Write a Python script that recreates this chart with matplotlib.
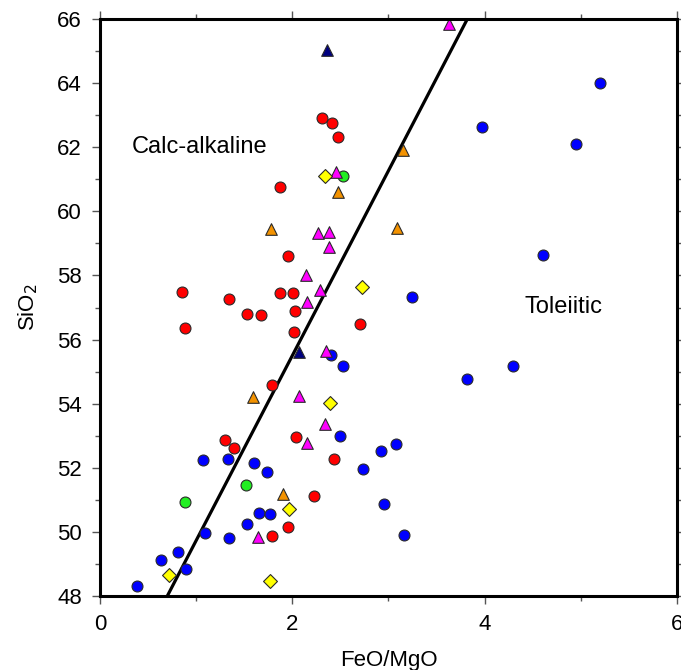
#!/usr/bin/env python3

# FeO/MgO vs SiO2 discrimination diagram (calc-alkaline / tholeiitic)

import numpy as np
import matplotlib
matplotlib.use("Agg")
import matplotlib.pyplot as plt
from matplotlib.ticker import MultipleLocator

plt.rcParams['font.family'] = ['Liberation Sans', 'DejaVu Sans']

# Data (FeO/MgO, SiO2)
red_x = [2.31, 2.41, 2.47, 1.87, 1.96, 0.85, 1.87, 2.01, 1.34, 2.03, 1.53, 1.67,
         0.88, 2.02, 2.70, 1.79, 2.04, 1.30, 1.39, 2.43, 2.23, 1.96, 1.79]
red_y = [62.90, 62.75, 62.33, 60.77, 58.61, 57.49, 57.46, 57.46, 57.28, 56.89, 56.79, 56.76,
         56.35, 56.25, 56.48, 54.57, 52.95, 52.86, 52.63, 52.28, 51.13, 50.15, 49.86]

blue_x = [5.20, 3.97, 4.95, 4.61, 3.24, 2.40, 2.53, 4.30, 3.82, 2.50, 3.08, 2.92, 1.07, 1.33,
          1.60, 1.74, 2.74, 2.95, 1.65, 1.77, 1.53, 1.09, 1.34, 3.16, 0.81, 0.63, 0.89, 0.38]
blue_y = [64.01, 62.62, 62.10, 58.64, 57.33, 55.52, 55.18, 55.18, 54.76, 52.99, 52.73, 52.53, 52.24, 52.28,
          52.15, 51.87, 51.95, 50.87, 50.59, 50.56, 50.24, 49.96, 49.80, 49.90, 49.38, 49.13, 48.84, 48.31]

green_x = [2.53, 1.52, 0.88]
green_y = [61.11, 51.46, 50.94]

magenta_x = [3.63, 2.45, 2.27, 2.38, 2.38, 2.14, 2.29, 2.15, 2.35, 2.07, 2.34, 2.15, 1.64]
magenta_y = [65.84, 61.22, 59.33, 59.37, 58.88, 58.02, 57.54, 57.17, 55.65, 54.25, 53.37, 52.78, 49.85]

orange_x = [3.15, 2.47, 1.78, 3.09, 1.59, 1.90]
orange_y = [61.90, 60.60, 59.45, 59.47, 54.20, 51.18]

navy_x = [2.36, 2.07]
navy_y = [65.03, 55.60]

yellow_x = [2.34, 2.72, 2.39, 1.97, 0.72, 1.77]
yellow_y = [61.11, 57.65, 54.03, 50.73, 48.67, 48.47]

# Dividing line
line_x = [0.70, 3.82]
line_y = [48.0, 66.0]

fig = plt.figure(figsize=(6.81, 6.70), dpi=100)
ax = fig.add_axes([0.1468, 0.1104, 0.8473, 0.8612])

ax.plot(line_x, line_y, color='black', lw=2.3, zorder=2, solid_capstyle='butt')

ec = '#2a2a2a'
ax.scatter(red_x, red_y, s=62, marker='o', c='#ff0000', edgecolors=ec, linewidths=0.8, zorder=3)
ax.scatter(blue_x, blue_y, s=62, marker='o', c='#0000ff', edgecolors=ec, linewidths=0.8, zorder=3)
ax.scatter(green_x, green_y, s=62, marker='o', c='#22ee22', edgecolors=ec, linewidths=0.8, zorder=3)
ax.scatter(magenta_x, magenta_y, s=70, marker='^', c='#ff00ff', edgecolors=ec, linewidths=0.8, zorder=3)
ax.scatter(orange_x, orange_y, s=70, marker='^', c='#f39200', edgecolors=ec, linewidths=0.8, zorder=3)
ax.scatter(navy_x, navy_y, s=70, marker='^', c='#000080', edgecolors=ec, linewidths=0.8, zorder=3)
ax.scatter(yellow_x, yellow_y, s=50, marker='D', c='#ffff00', edgecolors=ec, linewidths=0.8, zorder=3)

ax.text(0.33, 62.0, "Calc-alkaline", fontsize=17, va='center', ha='left')
ax.text(4.41, 57.03, "Toleiitic", fontsize=17, va='center', ha='left')

ax.set_xlim(0, 6)
ax.set_ylim(48, 66)
ax.xaxis.set_major_locator(MultipleLocator(2))
ax.xaxis.set_minor_locator(MultipleLocator(1))
ax.yaxis.set_major_locator(MultipleLocator(2))
ax.yaxis.set_minor_locator(MultipleLocator(1))

ax.tick_params(which='both', direction='out', top=True, right=True,
               color='#555555', width=1.0, labelsize=16, pad=7)
ax.tick_params(which='major', length=6)
ax.tick_params(which='minor', length=3.5)

for sp in ax.spines.values():
    sp.set_linewidth(2.2)
    sp.set_zorder(4)

ax.set_xlabel("FeO/MgO", fontsize=16, labelpad=11)
ax.set_ylabel("SiO$_2$", fontsize=16, labelpad=12)

fig.savefig("out.png", dpi=100)
